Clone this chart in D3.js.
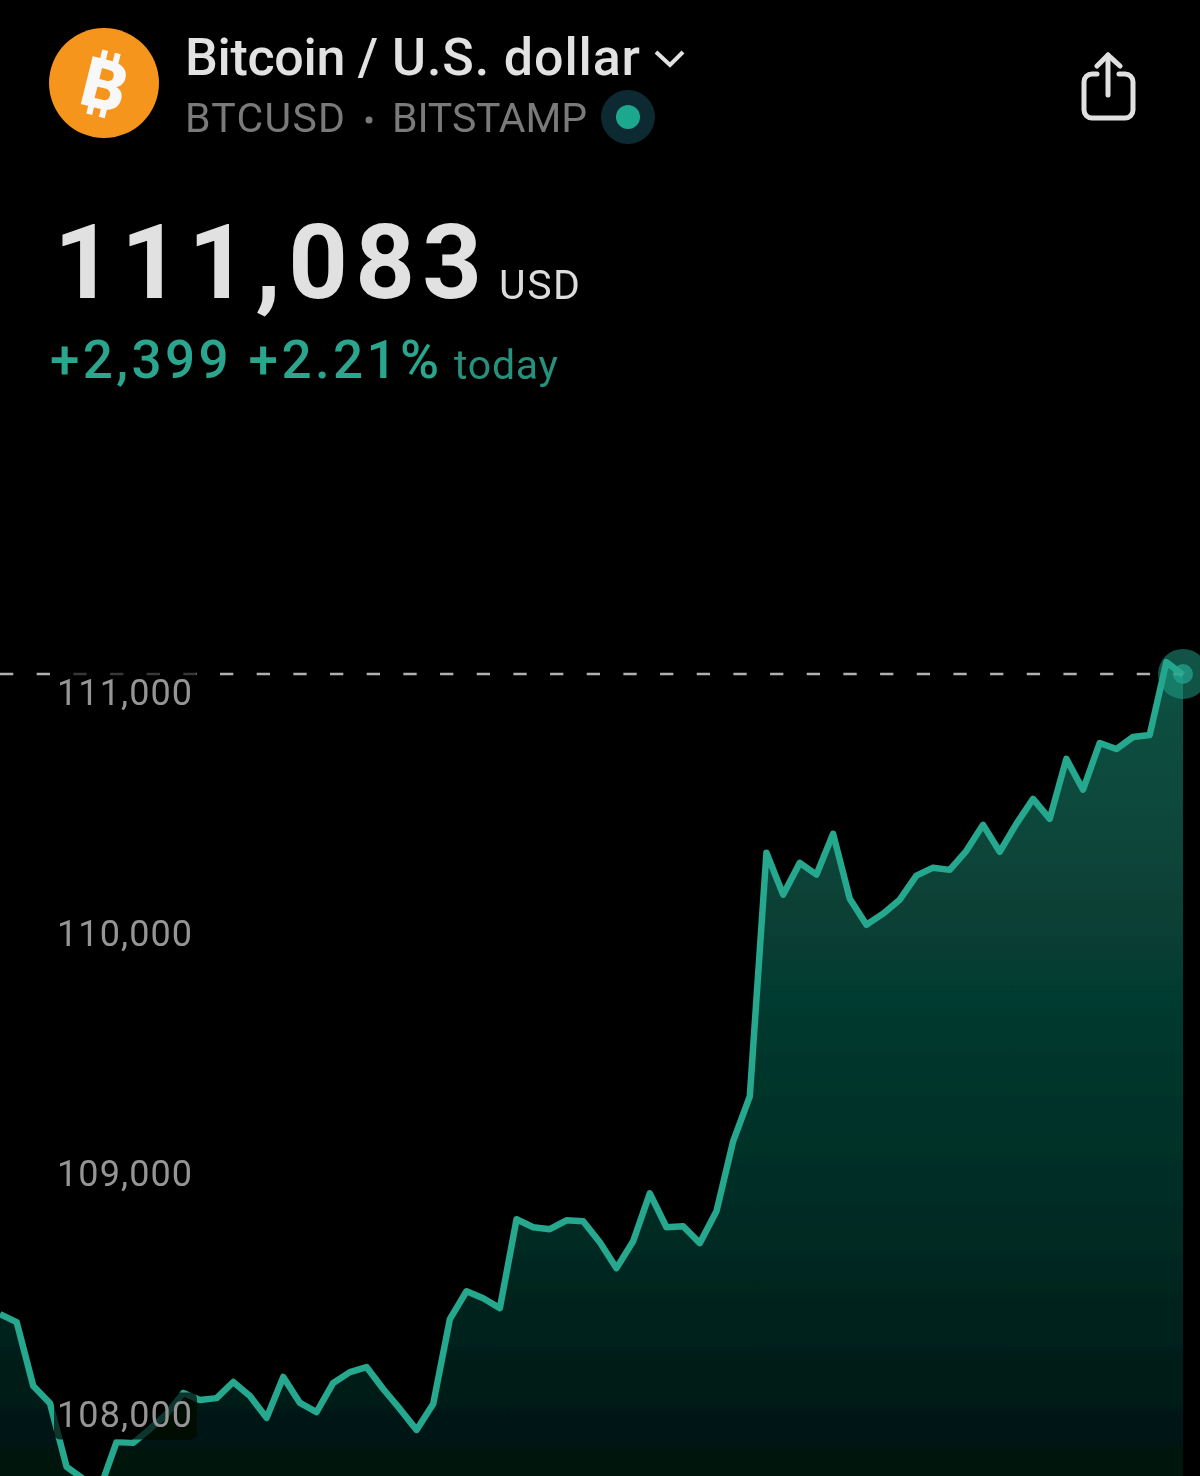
<!DOCTYPE html>
<html><head><meta charset="utf-8">
<script src="https://cdn.jsdelivr.net/npm/d3@7/dist/d3.min.js"></script>
<style>html,body{margin:0;padding:0;background:#000;overflow:hidden}svg{display:block}text{font-family:Roboto,sans-serif}</style>
</head><body>
<script>
const prices=[108415,108382,108116,108045,107780,107730,107690,107884,107880,107938,108000,108087,108058,108066,108133,108075,107984,108154,108046,108008,108129,108174,108195,108104,108021,107934,108042,108394,108510,108481,108440,108809,108776,108768,108805,108801,108714,108606,108718,108917,108776,108780,108710,108842,109133,109320,110332,110158,110290,110241,110411,110141,110033,110079,110137,110237,110270,110261,110340,110448,110336,110452,110556,110473,110722,110594,110788,110763,110813,110821,111124,111071];
const tickValues=[111000,110000,109000,108000];
const lastPrice=111075;
const W=1200,H=1476;

const x=d3.scaleLinear().domain([0,prices.length-1]).range([0,1183]);
const y=d3.scaleLinear().domain([111000,108000]).range([692,1414]);
const svg=d3.select("body").append("svg").attr("width",W).attr("height",H).attr("viewBox",[0,0,W,H]);
svg.append("rect").attr("width",W).attr("height",H).attr("fill","#000");
const defs=svg.append("defs");
const g=defs.append("linearGradient").attr("id","fade").attr("gradientUnits","userSpaceOnUse").attr("x1",0).attr("x2",0).attr("y1",660).attr("y2",1476);
[[0,"#0a5244"],[.42,"#063a30"],[.71,"#042a23"],[1,"#03130f"]].forEach(s=>g.append("stop").attr("offset",s[0]).attr("stop-color",s[1]));
defs.append("filter").attr("id","soft").attr("x","-5%").attr("y","-5%").attr("width","110%").attr("height","110%").append("feGaussianBlur").attr("stdDeviation",0.65);

const root=svg.append("g").attr("filter","url(#soft)");
const area=d3.area().x((d,i)=>x(i)).y0(H+40).y1(d=>y(d));
const line=d3.line().x((d,i)=>x(i)).y(d=>y(d));
root.append("path").datum(prices).attr("d",area).attr("fill","url(#fade)");
root.append("path").datum(prices).attr("d",line).attr("fill","none").attr("stroke","#25a88f").attr("stroke-width",6.5).attr("stroke-linejoin","round");
root.append("line").attr("x1",0).attr("x2",1183).attr("y1",y(lastPrice)).attr("y2",y(lastPrice)).attr("stroke","#b0b0b0").attr("stroke-width",2.5).attr("stroke-dasharray","13.3 23.37");
root.append("circle").attr("cx",x(prices.length-1)).attr("cy",y(lastPrice)).attr("r",25).attr("fill","#23a68e").attr("fill-opacity",.5);
root.append("circle").attr("cx",x(prices.length-1)).attr("cy",y(lastPrice)).attr("r",10).attr("fill","#23a68e").attr("fill-opacity",.7);

// price axis
const axis=d3.axisRight(y).tickValues(tickValues).tickSize(0).tickPadding(0).tickFormat(d3.format(","));
const ag=root.append("g").attr("transform","translate(57,0)").call(axis);
ag.select(".domain").remove();
ag.selectAll(".tick").insert("rect","text").attr("x",-3).attr("y",-22).attr("width",143).attr("height",47).attr("rx",6).attr("fill","#000").attr("fill-opacity",.68);
ag.selectAll("text").attr("font-size",36).attr("fill","#959595").attr("font-family","Roboto,sans-serif").attr("dy","0.35em").attr("textLength",135).attr("lengthAdjust","spacing");

// header
function label(t,xp,base,size,fill,weight,len){
  return root.append("text").attr("x",xp).attr("y",base).attr("font-size",size).attr("fill",fill).attr("font-weight",weight).attr("textLength",len).attr("lengthAdjust","spacing").style("font-family","Roboto,sans-serif").text(t);
}
label("Bitcoin /",185,75,52,"#e2e2e2",500,193);
label("U.S. dollar",392,75,52,"#e2e2e2",500,248);
label("BTCUSD",185,132,41,"#7a7a7a",400,160);
root.append("circle").attr("cx",369).attr("cy",120).attr("r",3.5).attr("fill","#7a7a7a");
label("BITSTAMP",392,132,41,"#7a7a7a",400,195);
label("111,083",54,298,104,"#e1e1e1",700,428);
label("USD",499,299,41,"#dcdcdc",400,81);
label("+2,399 +2.21%",50,378,53,"#2ba58e",500,389);
label("today",454,379,41,"#26917d",400,104);

// logo
root.append("circle").attr("cx",104).attr("cy",83).attr("r",55).attr("fill","#f5951f");
const b=root.append("g").attr("transform","translate(104,84) rotate(14)");
b.append("text").attr("x",1).attr("y",25).attr("text-anchor","middle").attr("font-size",69).attr("font-weight",900).attr("fill","#f8f8f8").text("B");
[[-10,-33],[3,-33],[-10,22],[3,22]].forEach(p=>b.append("rect").attr("x",p[0]).attr("y",p[1]).attr("width",6).attr("height",11).attr("fill","#f8f8f8"));

// live dot
root.append("circle").attr("cx",628).attr("cy",117).attr("r",27).attr("fill","#0a2c31");
root.append("circle").attr("cx",628).attr("cy",117).attr("r",12).attr("fill","#1fa88f");

// chevron
root.append("path").attr("d",d3.line()([[656,52],[670,65],[683,52]])).attr("fill","none").attr("stroke","#e2e2e2").attr("stroke-width",4);

// share icon
const share=root.append("g").attr("fill","none").attr("stroke","#e0e0e0").attr("stroke-width",5).attr("stroke-linecap","round").attr("stroke-linejoin","round");
share.append("path").attr("d","M1097,74H1092a8,8 0 0 0 -8,8V110a8,8 0 0 0 8,8H1125a8,8 0 0 0 8,-8V82a8,8 0 0 0 -8,-8H1119");
share.append("path").attr("d",d3.line()([[1108,95],[1108,55]]));
share.append("path").attr("d",d3.line()([[1097,66],[1108,55],[1120,66]]));
</script>
</body></html>
